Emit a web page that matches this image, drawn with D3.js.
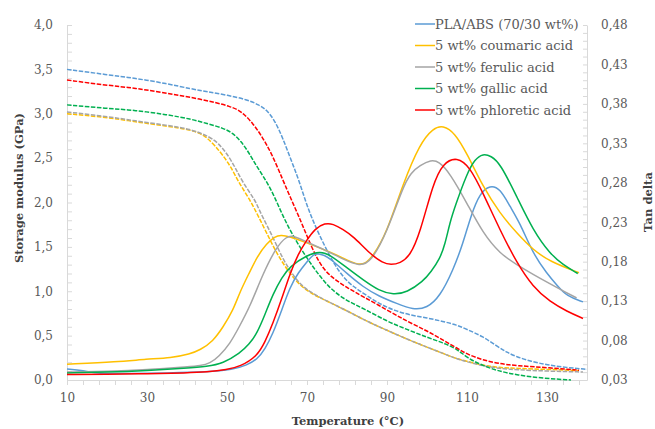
<!DOCTYPE html>
<html>
<head>
<meta charset="utf-8">
<script src="https://cdn.jsdelivr.net/npm/d3@7"></script>
<style>
  body { margin: 0; background: #fff; }
  text { font-family: "DejaVu Serif", serif; }
</style>
</head>
<body>
<div id="graphic"></div>
<script>
// series names (legend order) and their line colours
var seriesNames = ["PLA/ABS (70/30 wt%)", "5 wt% coumaric acid", "5 wt% ferulic acid", "5 wt% gallic acid", "5 wt% phloretic acid"];
var seriesColors = ["#5b9bd5", "#ffc000", "#a5a5a5", "#00b050", "#ff0000"];

// storage modulus (GPa) vs temperature (°C) - dashed, left axis
var modPLA = [[10,3.50],[20,3.44],[27,3.40],[35,3.34],[41,3.28],[45,3.25],[50,3.21],[55,3.16],[58,3.10],[60,3.04],[62,2.92],[64,2.72],[66,2.48],[68,2.25],[70,1.96],[72,1.74],[74.5,1.50],[77,1.29],[80,1.10],[84,0.98],[88,0.86],[92,0.78],[96,0.73],[100,0.70],[104,0.66],[107.5,0.62],[110,0.57],[114,0.49],[117.5,0.38],[120,0.31],[122.5,0.26],[126,0.21],[130,0.17],[135,0.14],[140,0.12]];
var modCou = [[10,3.00],[20,2.96],[27,2.91],[35,2.86],[40.75,2.82],[43.25,2.78],[45,2.73],[47,2.64],[49,2.53],[51,2.40],[53,2.22],[55.75,2.03],[58,1.83],[60.75,1.58],[63,1.38],[65.75,1.20],[68,1.08],[70.75,0.98],[74.5,0.90],[80,0.78],[85,0.66],[90,0.56],[95,0.46],[100,0.37],[104,0.30],[107,0.245],[110,0.21],[114,0.165],[118,0.14],[122.5,0.13],[130,0.12],[138,0.105]];
var modFer = [[10,3.02],[20,2.97],[27,2.92],[35,2.87],[40.75,2.83],[45.75,2.74],[48,2.66],[50,2.55],[52,2.40],[54,2.22],[57,2.03],[58,1.92],[60,1.74],[62,1.56],[64,1.36],[66,1.22],[68,1.09],[70.75,0.99],[74.5,0.90],[80,0.78],[85,0.66],[90,0.56],[95,0.46],[100,0.37],[104,0.30],[107,0.245],[110,0.205],[114,0.16],[118,0.13],[122.5,0.115],[130,0.10],[139,0.09]];
var modGal = [[10,3.10],[20,3.06],[27,3.04],[35,2.99],[41,2.94],[45,2.89],[49,2.84],[51.5,2.78],[53.5,2.69],[55.5,2.56],[57.5,2.40],[60.75,2.18],[63.25,1.92],[66,1.66],[70,1.37],[73,1.18],[76,1.02],[80,0.89],[84,0.81],[90,0.66],[95,0.57],[100,0.48],[104,0.42],[107.5,0.35],[110,0.25],[114,0.16],[118,0.10],[122.5,0.056],[129,0.02],[136,0.0]];
var modPhl = [[10,3.38],[20,3.32],[27,3.29],[35,3.23],[43,3.17],[51.5,3.08],[54,3.01],[56.5,2.89],[58.5,2.76],[61,2.57],[64,2.25],[66,2.04],[68,1.84],[70,1.62],[73,1.31],[76,1.16],[80,1.04],[84,0.94],[90,0.79],[95,0.66],[100,0.555],[104,0.45],[107.5,0.36],[110,0.29],[114,0.225],[118,0.185],[122.5,0.16],[130,0.14],[138,0.11]];

// tan delta vs temperature (°C) - solid, right axis
var tanPLA = [[10,0.044],[14,0.042],[18,0.038],[25,0.038],[35,0.039],[45,0.040],[51.5,0.043],[55,0.049],[57.5,0.056],[59.5,0.069],[61.5,0.089],[63.5,0.116],[65.75,0.148],[67.8,0.166],[70,0.180],[72,0.192],[74.5,0.188],[76,0.183],[80,0.165],[84,0.148],[88,0.136],[92.5,0.127],[96.5,0.119],[100,0.121],[103.25,0.136],[106.5,0.169],[109,0.203],[111,0.239],[113.25,0.267],[115.75,0.277],[118.25,0.273],[120.75,0.25],[123.25,0.229],[126.5,0.19],[130,0.165],[132.5,0.15],[135,0.136],[139,0.129]];
var tanCou = [[10,0.050],[22.5,0.053],[30,0.0565],[36,0.058],[40.75,0.063],[43.25,0.068],[46.5,0.079],[49,0.097],[51.5,0.118],[53.25,0.142],[55.5,0.165],[57.5,0.186],[59.9,0.203],[62,0.212],[63.5,0.214],[66,0.211],[68.25,0.207],[74.5,0.195],[78.5,0.186],[82.5,0.176],[84.5,0.177],[86.5,0.187],[89.9,0.216],[94,0.279],[98.25,0.33],[101.5,0.349],[104,0.353],[107,0.343],[110,0.317],[114,0.275],[118.25,0.241],[122.5,0.216],[126.5,0.195],[130.75,0.18],[138,0.166]];
var tanFer = [[10,0.040],[20,0.041],[30,0.043],[40.75,0.047],[43.25,0.048],[45.75,0.051],[48,0.060],[50.75,0.076],[53,0.097],[55.75,0.123],[59,0.165],[62.4,0.199],[64.9,0.212],[66.5,0.213],[69,0.207],[74.5,0.195],[79,0.183],[83.25,0.174],[86,0.180],[89.9,0.216],[94,0.275],[96,0.293],[98.25,0.302],[101,0.309],[103,0.307],[105.75,0.292],[110,0.254],[114,0.216],[118.25,0.19],[122.5,0.176],[126.5,0.164],[130.75,0.152],[134,0.143],[137.4,0.134]];
var tanGal = [[10,0.039],[20,0.040],[30,0.042],[40,0.045],[45,0.047],[49,0.051],[53.25,0.064],[55.5,0.075],[57.5,0.089],[59.5,0.113],[61.5,0.139],[63.7,0.160],[65.75,0.174],[69.9,0.188],[73.25,0.193],[75.75,0.189],[80,0.172],[84,0.157],[88,0.143],[91.6,0.138],[95,0.141],[99,0.155],[101,0.167],[103.25,0.184],[104.5,0.202],[105.75,0.23],[107,0.25],[110,0.292],[112,0.310],[114,0.317],[116,0.314],[118.25,0.305],[122.5,0.262],[126.5,0.22],[130.75,0.19],[134,0.176],[137.7,0.165]];
var tanPhl = [[10,0.037],[20,0.037],[30,0.038],[40,0.039],[45,0.040],[50,0.043],[53.25,0.047],[57.5,0.060],[59.5,0.078],[61.5,0.102],[63.7,0.133],[65.75,0.165],[67.8,0.190],[69.9,0.207],[72,0.222],[74.5,0.229],[76.5,0.228],[79,0.221],[81.6,0.212],[85.75,0.19],[89,0.178],[91,0.176],[93.25,0.178],[95.75,0.187],[98.25,0.216],[101.5,0.279],[104,0.305],[107.5,0.313],[110.75,0.30],[114,0.267],[118.25,0.22],[122.5,0.178],[126.5,0.148],[130.75,0.129],[135,0.117],[139,0.108]];

// axis ticks
var xTicks = [10, 30, 50, 70, 90, 110, 130];
var yLeftTicks = [0, 0.5, 1, 1.5, 2, 2.5, 3, 3.5, 4];
var yRightTicks = [0.03, 0.08, 0.13, 0.18, 0.23, 0.28, 0.33, 0.38, 0.43, 0.48];

var modSeries = [modPLA, modCou, modFer, modGal, modPhl];
var tanSeries = [tanPLA, tanCou, tanFer, tanGal, tanPhl];

function commaFmt(digits) {
    return function (d) { return d.toFixed(digits).replace(".", ","); };
}

function drawChart() {
    var width = 655, height = 429;
    var margin = { top: 25, right: 68, bottom: 49, left: 67 };

    var svg = d3.select("#graphic").append("svg")
        .attr("width", width)
        .attr("height", height);

    var x = d3.scaleLinear().domain([10, 140]).range([margin.left, width - margin.right]);
    var yL = d3.scaleLinear().domain([0, 4]).range([height - margin.bottom, margin.top]);
    var yR = d3.scaleLinear().domain([0.03, 0.48]).range([height - margin.bottom, margin.top]);

    var axisColor = "#d9d9d9", labelColor = "#595959";

    // left axis: minor ticks every 0.1, labels every 0.5
    svg.append("g")
        .attr("transform", "translate(" + margin.left + ",0)")
        .call(d3.axisLeft(yL)
            .tickValues(d3.range(0, 41).map(function (i) { return i / 10; }))
            .tickSize(-5).tickSizeOuter(0).tickFormat(""));
    svg.append("g")
        .attr("transform", "translate(" + margin.left + ",0)")
        .call(d3.axisLeft(yL).tickValues(yLeftTicks).tickSize(0).tickPadding(14).tickFormat(commaFmt(1)))
        .call(function (g) { g.select(".domain").remove(); });

    // right axis: minor ticks every 0.01, labels every 0.05
    svg.append("g")
        .attr("transform", "translate(" + (width - margin.right) + ",0)")
        .call(d3.axisRight(yR)
            .tickValues(d3.range(0, 46).map(function (i) { return 0.03 + i / 100; }))
            .tickSize(-4).tickSizeOuter(0).tickFormat(""));
    svg.append("g")
        .attr("transform", "translate(" + (width - margin.right) + ",0)")
        .call(d3.axisRight(yR).tickValues(yRightTicks).tickSize(0).tickPadding(14).tickFormat(commaFmt(2)))
        .call(function (g) { g.select(".domain").remove(); });

    // bottom axis: minor ticks every 4, labels every 20
    svg.append("g")
        .attr("transform", "translate(0," + (height - margin.bottom) + ")")
        .call(d3.axisBottom(x)
            .tickValues(d3.range(10, 139, 4))
            .tickSize(5).tickSizeOuter(0).tickFormat(""));
    svg.append("g")
        .attr("transform", "translate(0," + (height - margin.bottom) + ")")
        .call(d3.axisBottom(x).tickValues(xTicks).tickSize(0).tickPadding(13).tickFormat(d3.format("d")))
        .call(function (g) { g.select(".domain").remove(); });

    svg.selectAll(".domain, .tick line").attr("stroke", axisColor).attr("stroke-width", 1);
    svg.selectAll(".tick text")
        .attr("fill", labelColor)
        .style("font-family", "DejaVu Serif")
        .style("font-size", "12px");

    // curves
    var lineL = d3.line().x(function (d) { return x(d[0]); }).y(function (d) { return yL(d[1]); }).curve(d3.curveBasis);
    var lineR = d3.line().x(function (d) { return x(d[0]); }).y(function (d) { return yR(d[1]); }).curve(d3.curveBasis);

    svg.append("g").selectAll("path")
        .data(modSeries)
        .enter().append("path")
        .attr("d", lineL)
        .attr("fill", "none")
        .attr("stroke", function (d, i) { return seriesColors[i]; })
        .attr("stroke-width", 1.5)
        .attr("stroke-dasharray", "4.5,1.5");

    svg.append("g").selectAll("path")
        .data(tanSeries)
        .enter().append("path")
        .attr("d", lineR)
        .attr("fill", "none")
        .attr("stroke", function (d, i) { return seriesColors[i]; })
        .attr("stroke-width", 1.5);

    // axis titles
    svg.append("text")
        .attr("transform", "translate(19,188) rotate(-90)")
        .attr("text-anchor", "middle")
        .attr("dy", "0.35em")
        .attr("fill", "#404040")
        .style("font-size", "11.5px")
        .style("font-weight", "bold")
        .text("Storage modulus (GPa)");

    svg.append("text")
        .attr("transform", "translate(648,202) rotate(-90)")
        .attr("text-anchor", "middle")
        .attr("dy", "0.35em")
        .attr("fill", "#404040")
        .style("font-size", "11.5px")
        .style("font-weight", "bold")
        .text("Tan delta");

    svg.append("text")
        .attr("x", 348)
        .attr("y", 425)
        .attr("text-anchor", "middle")
        .attr("fill", "#404040")
        .style("font-size", "11.5px")
        .style("font-weight", "bold")
        .text("Temperature (°C)");

    // legend
    var legend = svg.append("g").attr("transform", "translate(415,24)");
    var rows = legend.selectAll("g")
        .data(seriesNames)
        .enter().append("g")
        .attr("transform", function (d, i) { return "translate(0," + (i * 21.5) + ")"; });
    rows.append("line")
        .attr("x1", 0).attr("x2", 20)
        .attr("stroke", function (d, i) { return seriesColors[i]; })
        .attr("stroke-width", 1.5);
    rows.append("text")
        .attr("x", 20)
        .attr("dy", "0.35em")
        .attr("fill", labelColor)
        .style("font-size", "13px")
        .text(function (d) { return d; });
}

drawChart();
</script>
</body>
</html>
